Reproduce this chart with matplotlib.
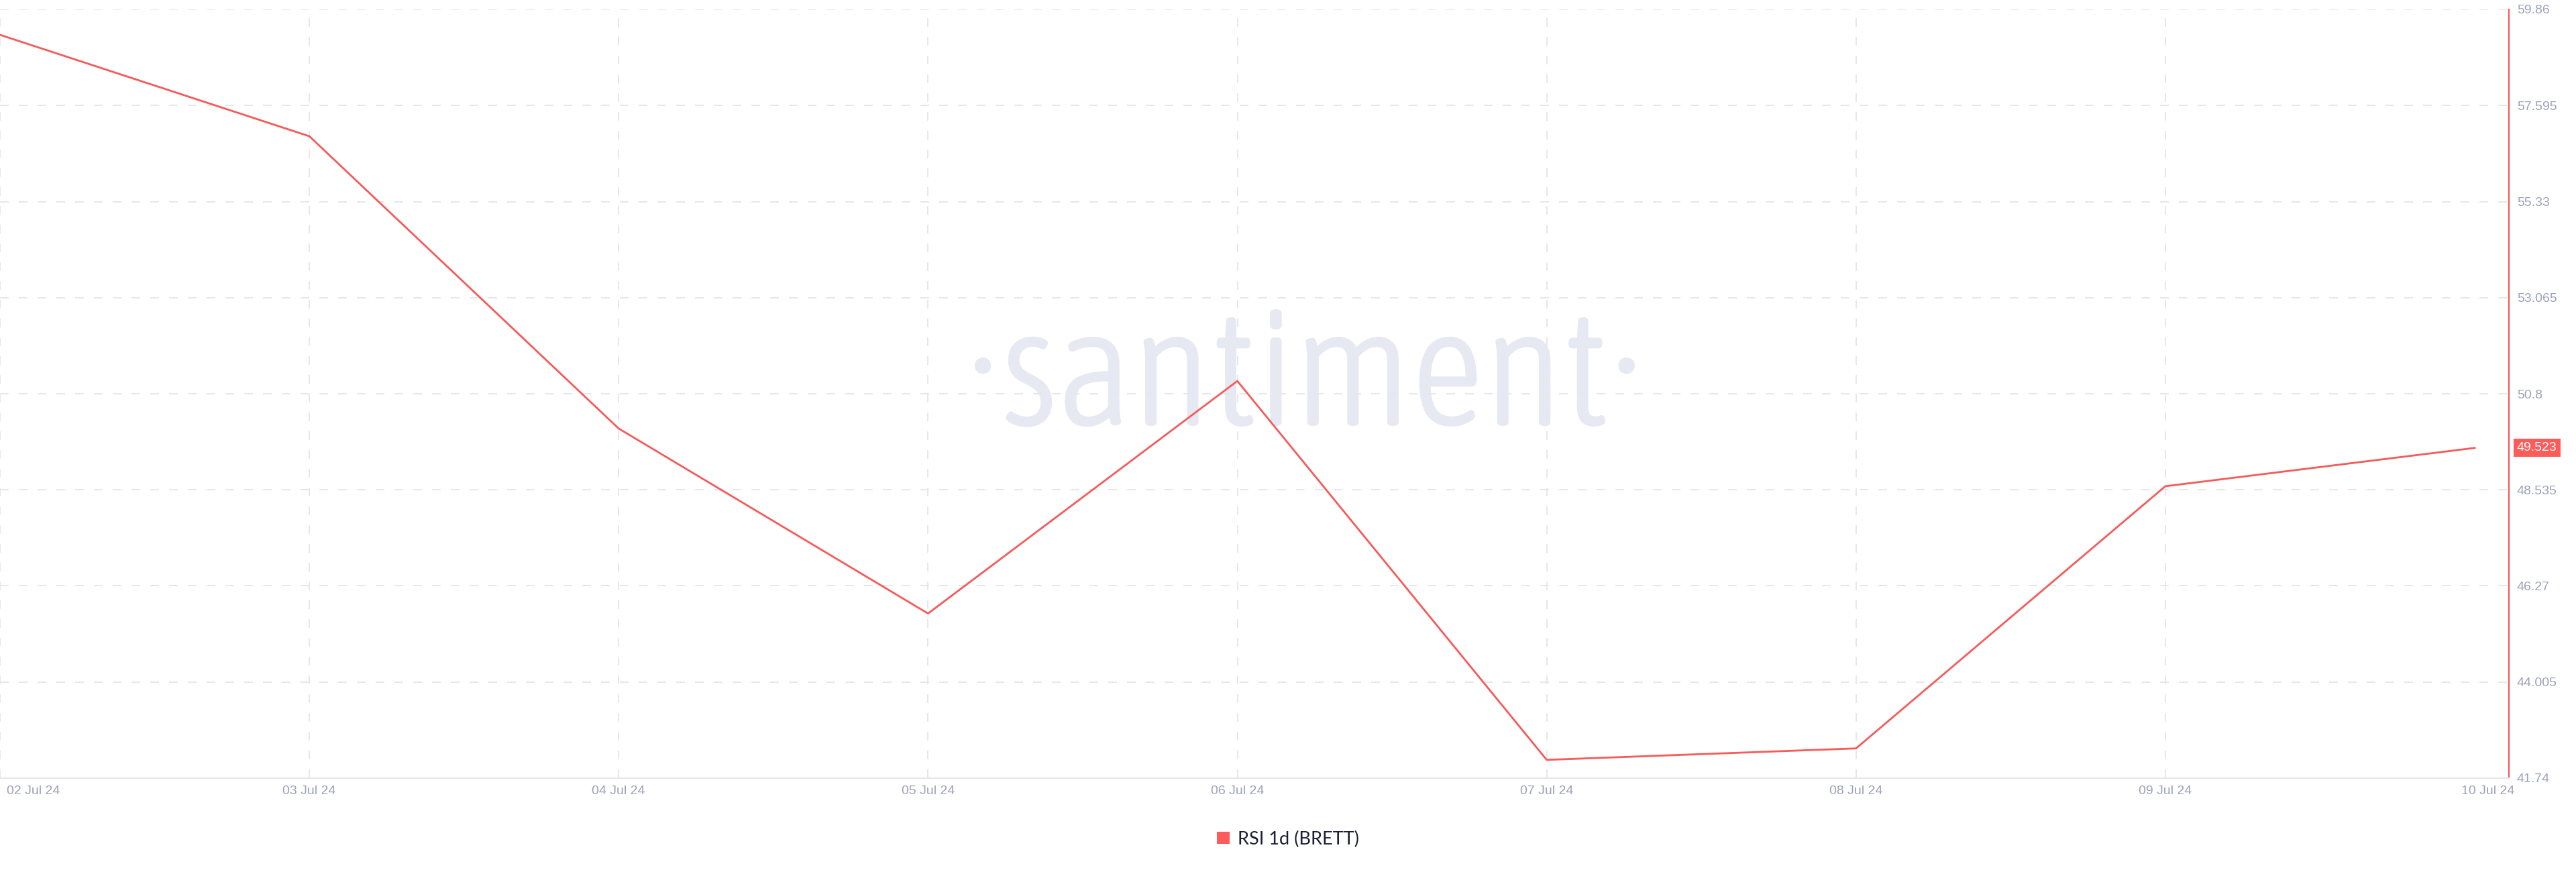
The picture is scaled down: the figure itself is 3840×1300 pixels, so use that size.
import matplotlib
matplotlib.use("Agg")
import matplotlib.pyplot as plt
import matplotlib.font_manager as fm
import matplotlib.transforms as mtransforms
import matplotlib.patheffects as pe
from matplotlib.patches import Patch
from matplotlib.font_manager import FontProperties

# ---------------- data ----------------
dates = ["02 Jul 24", "03 Jul 24", "04 Jul 24", "05 Jul 24", "06 Jul 24",
         "07 Jul 24", "08 Jul 24", "09 Jul 24", "10 Jul 24"]
rsi_values = [59.26, 56.87, 49.98, 45.62, 51.10, 42.17, 42.44, 48.62, 49.523]
y_ticks = [59.86, 57.595, 55.33, 53.065, 50.8, 48.535, 46.27, 44.005, 41.74]
y_tick_labels = ["59.86", "57.595", "55.33", "53.065", "50.8", "48.535",
                 "46.27", "44.005", "41.74"]
series_name = "RSI 1d (BRETT)"
last_value_label = "49.523"
watermark_word = "santiment"

# ---------------- style ----------------
RED = "#f65a5a"
TICK_COLOR = "#9ca2bb"
GRID_COLOR = "#e6e7ec"
WM_COLOR = "#e6e9f1"

W, H, DPI = 3840, 1300, 100
PX = 72.0 / DPI  # points per pixel

fig = plt.figure(figsize=(W / DPI, H / DPI), dpi=DPI)
fig.patch.set_facecolor("white")

L, R, T, B = 0, 3740, 14, 1160
ax = fig.add_axes([L / W, 1 - B / H, (R - L) / W, (B - T) / H])
ax.set_facecolor("none")

x = list(range(len(dates)))
ax.set_xlim(0, (len(dates) - 1) * R / 3689.0)
ax.set_ylim(y_ticks[-1], y_ticks[0])

ax.plot(x, rsi_values, color=RED, lw=2.8 * PX, zorder=3, solid_joinstyle="miter")

# grid
ax.set_axisbelow(True)
ax.set_xticks(x)
ax.set_xticklabels([])
ax.set_yticks(y_ticks)
ax.grid(True, color=GRID_COLOR, lw=2 * PX, linestyle=(0, (6.5, 7.5)))
ax.xaxis.get_gridlines()[-1].set_visible(False)
ax.tick_params(axis="x", length=0)

# y axis on right
ax.yaxis.tick_right()
ax.set_yticklabels(y_tick_labels)
ax.tick_params(axis="y", length=0, pad=12 * PX, labelsize=14, labelcolor=TICK_COLOR)
for lab in ax.get_yticklabels():
    lab.set_family("Liberation Sans")

for s in ("top", "left"):
    ax.spines[s].set_visible(False)
ax.spines["right"].set_color(RED)
ax.spines["right"].set_linewidth(2.2 * PX)
ax.spines["bottom"].set_color("#e4e6eb")
ax.spines["bottom"].set_linewidth(2.0 * PX)

# x labels
xtrans = mtransforms.blended_transform_factory(ax.transData, ax.transAxes)
for i, d in enumerate(dates):
    dx, ha = 0, "center"
    if i == 0:
        dx, ha = 10, "left"
    elif i == len(dates) - 1:
        dx, ha = 20, "center"
    off = mtransforms.ScaledTranslation(dx / DPI, -20 / DPI, fig.dpi_scale_trans)
    ax.text(x[i], 0, d, transform=xtrans + off, ha=ha, va="center",
            fontsize=14, color=TICK_COLOR, family="Liberation Sans", clip_on=False)

# last value label
ytrans = mtransforms.blended_transform_factory(ax.transAxes, ax.transData)
off = mtransforms.ScaledTranslation(12 / DPI, 0, fig.dpi_scale_trans)
ax.text(1.0, rsi_values[-1], last_value_label, transform=ytrans + off,
        ha="left", va="center", fontsize=14, color="white",
        family="Liberation Sans", clip_on=False, zorder=5,
        bbox=dict(boxstyle="square,pad=0.25", fc="#ff5b5b", ec="none"))

# legend
handles = [Patch(facecolor="#ff5b5b", edgecolor="none", label=series_name)]
leg = fig.legend(handles=handles, loc="center", bbox_to_anchor=(0.5, 1 - 1251 / H),
                 frameon=False, prop=FontProperties(family="Lato", size=19.5),
                 handlelength=0.68, handleheight=0.68, handletextpad=0.45,
                 borderpad=0, borderaxespad=0)
for t in leg.get_texts():
    t.set_color("#1b1f33")

# watermark (light condensed font if available, thickened a little)
def find_font(preds):
    for pred in preds:
        for f in fm.fontManager.ttflist:
            fn = f.fname.lower().replace(" ", "").replace("_", "")
            base = fn.split("/")[-1]
            if pred(base):
                return FontProperties(fname=f.fname)
    return None

wm_prop = find_font([
    lambda fn: "condensed" in fn and "light" in fn and "italic" not in fn and "oblique" not in fn,
    lambda fn: "liberationsansnarrow-regular" in fn,
    lambda fn: "dejavusanscondensed.ttf" in fn,
])
stroke_px = 5.0
if wm_prop is None:
    wm_prop = FontProperties(family="Open Sans")
    stroke_px = 0.0

renderer = fig.canvas.get_renderer()
probe = fig.text(0, 0, watermark_word, fontproperties=wm_prop, fontsize=100)
w100 = probe.get_window_extent(renderer).width
probe.remove()
wm_size = 100 * 908.0 / w100
wm_prop.set_size(wm_size)
wm = ax.text(1945 / W, 1 - 632 / H, "\u00b7" + watermark_word + "\u00b7",
             transform=fig.transFigure, fontproperties=wm_prop, color=WM_COLOR,
             ha="center", va="baseline", zorder=0.1)
if stroke_px > 0:
    wm.set_path_effects([pe.withStroke(linewidth=stroke_px * PX, foreground=WM_COLOR,
                                       joinstyle="miter", capstyle="butt")])

fig.savefig("out.png", dpi=DPI, facecolor="white")
